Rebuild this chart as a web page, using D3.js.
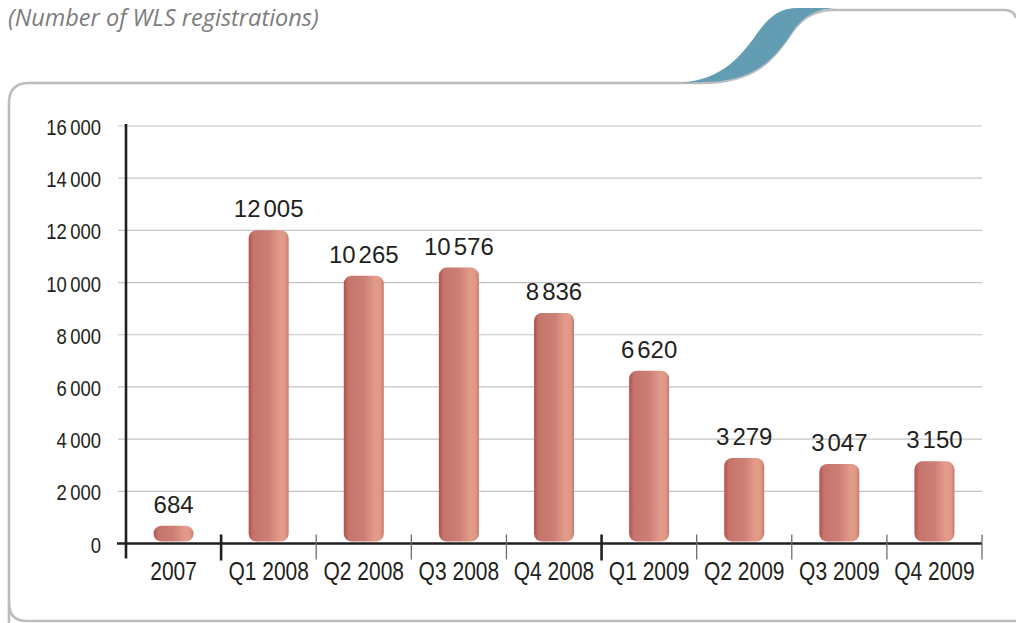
<!DOCTYPE html>
<html>
<head>
<meta charset="utf-8">
<script src="https://cdn.jsdelivr.net/npm/d3@7"></script>
<style>
  body { margin: 0; background: #fff; }
  .chart svg { display: block; }
</style>
</head>
<body>
<div class="chart"></div>
<script>
var categories = ['2007', 'Q1 2008', 'Q2 2008', 'Q3 2008', 'Q4 2008', 'Q1 2009', 'Q2 2009', 'Q3 2009', 'Q4 2009']
var registrations = [684, 12005, 10265, 10576, 8836, 6620, 3279, 3047, 3150]
var yTicks = [0, 2000, 4000, 6000, 8000, 10000, 12000, 14000, 16000]
// boundaries between years get a heavier tick
var yearBreaks = ['Q1 2008', 'Q1 2009']
var title = '(Number of WLS registrations)'

var width = 1016
var height = 623
var margin = {top: 126, right: 25, bottom: 79, left: 126}
var plotW = width - margin.left - margin.right
var plotH = height - margin.top - margin.bottom

var plainFont = "'Liberation Sans', Arial, Helvetica, sans-serif"
// no narrow face installed, so condensed labels are squeezed horizontally
var squeeze = 0.84

var fmt = d3.format(',')
// split "12,005" into groups so the separator can be a tight gap
function addGrouped(sel, value, gap) {
  var parts = fmt(value).split(',')
  parts.forEach(function(p, i) {
    sel.append('tspan').attr('dx', i === 0 ? 0 : gap).text(p)
  })
}

var svg = d3
  .select('.chart')
  .append('svg')
  .attr('width', width)
  .attr('height', height)

var defs = svg.append('defs')
var grad = defs
  .append('linearGradient')
  .attr('id', 'barGrad')
  .attr('x1', '0%')
  .attr('x2', '100%')
  .attr('y1', '0%')
  .attr('y2', '0%')
var stops = [
  ['0%', '#b2524b'],
  ['12%', '#c6756c'],
  ['50%', '#cc7e75'],
  ['78%', '#e29c89'],
  ['92%', '#e09886'],
  ['100%', '#c8766a']
]
stops.forEach(function(s) {
  grad.append('stop').attr('offset', s[0]).attr('stop-color', s[1])
})

//frame with the swoosh at the top
svg
  .append('path')
  .attr('d',
    'M702,83 C 754,83 774,60 792,32 C 802,18 814,10 834,10 L 1004,10 Q 1014,10 1016,18' +
    ' M 9,640 L 9,103 Q 9,83 29,83 L 702,83')
  .style('fill', 'none')
  .style('stroke', '#bcbcc0')
  .style('stroke-width', 2.6)
svg
  .append('path')
  .attr('d', 'M9,603 Q 9,621 27,621 L 1016,621')
  .style('fill', 'none')
  .style('stroke', '#bcbcc0')
  .style('stroke-width', 2.6)
svg
  .append('path')
  .attr('d',
    'M671,83 C 718,83 738,60 756,35 C 768,18 778,8 798,8 L 836,8 C 814,9 803,17 793,31 C 775,59 754,82 704,82 Z')
  .style('fill', '#629db4')

svg
  .append('text')
  .attr('x', 8)
  .attr('y', 26)
  .style('font-family', "'Open Sans', Lato, sans-serif")
  .style('font-style', 'italic')
  .style('font-size', '23.5px')
  .style('fill', '#7c7c80')
  .text(title)

var g = svg
  .append('g')
  .attr('transform', 'translate(' + margin.left + ',' + margin.top + ')')

var x = d3
  .scaleBand()
  .domain(categories)
  .range([0, plotW - 9])
  .padding(0)
var y = d3
  .scaleLinear()
  .domain([0, 16000])
  .range([plotH - 0.5, 0])

//gridlines
g.selectAll('.grid')
  .data(yTicks.slice(1))
  .enter()
  .append('line')
  .attr('class', 'grid')
  .attr('x1', -8)
  .attr('x2', x.range()[1])
  .attr('y1', function(d) { return y(d) })
  .attr('y2', function(d) { return y(d) })
  .style('stroke', '#c4c4c6')
  .style('stroke-width', 1.2)

//y tick labels
g.selectAll('.ylab')
  .data(yTicks)
  .enter()
  .append('text')
  .attr('class', 'ylab')
  .attr('transform', function(d) {
    return 'translate(-25,' + (y(d) + 9) + ') scale(' + squeeze + ',1)'
  })
  .attr('text-anchor', 'end')
  .style('font-family', plainFont)
  .style('font-size', '22px')
  .style('fill', '#231f20')
  .each(function(d) { addGrouped(d3.select(this), d, 4) })

var barW = 40
g.selectAll('.bar')
  .data(registrations)
  .enter()
  .append('rect')
  .attr('class', 'bar')
  .attr('x', function(d, i) { return x(categories[i]) + x.bandwidth() / 2 - barW / 2 })
  .attr('y', function(d) { return y(d) })
  .attr('width', barW)
  .attr('height', function(d) { return y(0) - 2 - y(d) })
  .attr('rx', 8)
  .attr('ry', 8)
  .style('fill', 'url(#barGrad)')

g.selectAll('.val')
  .data(registrations)
  .enter()
  .append('text')
  .attr('class', 'val')
  .attr('x', function(d, i) { return x(categories[i]) + x.bandwidth() / 2 })
  .attr('y', function(d) { return y(d) - 13 })
  .attr('text-anchor', 'middle')
  .style('font-family', plainFont)
  .style('font-size', '24px')
  .style('fill', '#231f20')
  .each(function(d) { addGrouped(d3.select(this), d, 3) })

//axes
g.append('line')
  .attr('x1', -9)
  .attr('x2', x.range()[1])
  .attr('y1', y(0))
  .attr('y2', y(0))
  .style('stroke', '#231f20')
  .style('stroke-width', 2.6)
g.append('line')
  .attr('x1', 0)
  .attr('x2', 0)
  .attr('y1', -2)
  .attr('y2', y(0) + 15)
  .style('stroke', '#231f20')
  .style('stroke-width', 2.6)

//category separators
g.selectAll('.sep')
  .data(categories.slice(1).concat(['end']))
  .enter()
  .append('line')
  .attr('class', 'sep')
  .attr('x1', function(d) { return d === 'end' ? x.range()[1] : x(d) })
  .attr('x2', function(d) { return d === 'end' ? x.range()[1] : x(d) })
  .attr('y1', y(0) - 9)
  .attr('y2', function(d) { return yearBreaks.indexOf(d) >= 0 ? y(0) + 17 : y(0) + 16 })
  .style('stroke', function(d) { return yearBreaks.indexOf(d) >= 0 ? '#231f20' : '#6d6e71' })
  .style('stroke-width', function(d) { return yearBreaks.indexOf(d) >= 0 ? 2.6 : 1.3 })

g.selectAll('.xlab')
  .data(categories)
  .enter()
  .append('text')
  .attr('class', 'xlab')
  .attr('transform', function(d) {
    return 'translate(' + (x(d) + x.bandwidth() / 2) + ',' + (y(0) + 36) + ') scale(' + squeeze + ',1)'
  })
  .attr('text-anchor', 'middle')
  .style('font-family', plainFont)
  .style('font-size', '25px')
  .style('fill', '#231f20')
  .text(function(d) { return d })
</script>
</body>
</html>
